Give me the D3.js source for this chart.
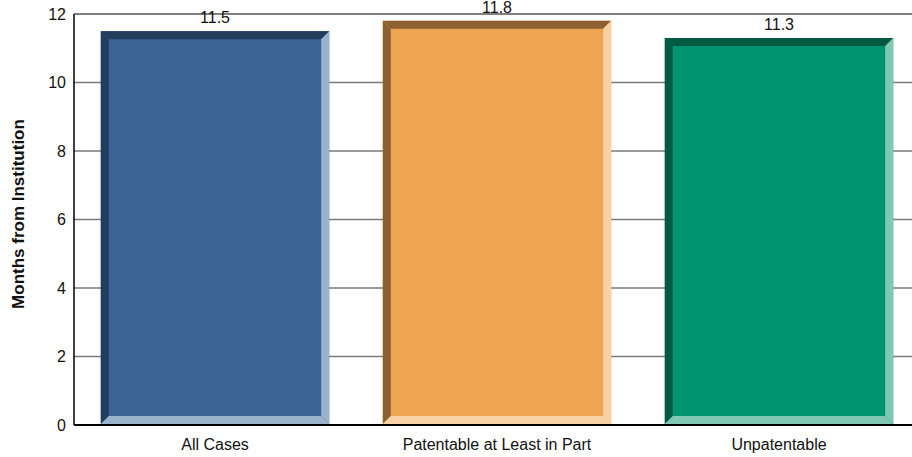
<!DOCTYPE html>
<html><head><meta charset="utf-8">
<script src="https://cdn.jsdelivr.net/npm/d3@7"></script>
<style>body{margin:0;background:#fff}svg{display:block;font-family:"Liberation Sans",Arial,sans-serif}</style>
</head><body><svg id="c" width="912" height="457"></svg>
<script>
const categories = ["All Cases", "Patentable at Least in Part", "Unpatentable"];
const values = [11.5, 11.8, 11.3];
const yTicks = [0, 2, 4, 6, 8, 10, 12];
const yTitle = "Months from Institution";
const mainColors = ["#3a6494", "#eea453", "#009570"];
const darkColors = ["#233d5e", "#8c6030", "#005a42"];
const lightColors = ["#9bb2cc", "#f8d1a5", "#80c8b3"];

const svg = d3.select("#c");
const L = 74, R = 920, T = 14, B = 425;
const x = d3.scaleBand().domain(categories).range([L, R]).paddingInner(0.19).paddingOuter(0.095);
const y = d3.scaleLinear().domain([0, 12]).range([B, T]);

// gridlines
svg.append("g").selectAll("line").data(yTicks.filter(t => t > 0 && t < 12)).join("line")
  .attr("x1", L).attr("x2", 912).attr("y1", d => y(d)).attr("y2", d => y(d))
  .attr("stroke", "#7a7a7a").attr("stroke-width", 1.5);
svg.append("line").attr("x1", L).attr("x2", 912).attr("y1", y(12)).attr("y2", y(12))
  .attr("stroke", "#000").attr("stroke-width", 1.2);

// bars with bevel
const b = 8;
const g = svg.append("g");
values.forEach((v, i) => {
  const x0 = x(categories[i]), x1 = x0 + x.bandwidth(), y0 = y(v), y1 = y(0) - 1;
  const bg = g.append("g");
  bg.append("rect").attr("x", x0).attr("y", y0).attr("width", x1 - x0).attr("height", y1 - y0).attr("fill", mainColors[i]);
  const poly = (pts, c) => bg.append("polygon").attr("points", pts.map(p => p.join(",")).join(" ")).attr("fill", c);
  poly([[x0, y0], [x1, y0], [x1 - b, y0 + b], [x0 + b, y0 + b]], darkColors[i]);
  poly([[x0, y0], [x0 + b, y0 + b], [x0 + b, y1 - b], [x0, y1]], darkColors[i]);
  poly([[x1, y0], [x1, y1], [x1 - b, y1 - b], [x1 - b, y0 + b]], lightColors[i]);
  poly([[x0, y1], [x1, y1], [x1 - b, y1 - b], [x0 + b, y1 - b]], lightColors[i]);
  svg.append("text").attr("x", x0 + x.bandwidth() / 2).attr("y", y0 - 8)
    .attr("text-anchor", "middle").attr("font-size", 16).attr("fill", "#111").text(v.toFixed(1));
});

// axes
svg.append("line").attr("x1", L).attr("x2", L).attr("y1", T).attr("y2", B).attr("stroke", "#000").attr("stroke-width", 1.5);
svg.append("line").attr("x1", L).attr("x2", 912).attr("y1", B).attr("y2", B).attr("stroke", "#000").attr("stroke-width", 2);

svg.append("g").selectAll("text").data(yTicks).join("text")
  .attr("x", 66).attr("y", d => y(d)).attr("dy", "0.35em").attr("text-anchor", "end")
  .attr("font-size", 16).attr("fill", "#111").text(d => d);

svg.append("g").selectAll("text").data(categories).join("text")
  .attr("x", d => x(d) + x.bandwidth() / 2).attr("y", 450).attr("text-anchor", "middle")
  .attr("font-size", 16).attr("fill", "#111").text(d => d);

svg.append("text").attr("transform", `translate(24,214) rotate(-90)`)
  .attr("text-anchor", "middle").attr("font-size", 17).attr("font-weight", "bold").attr("fill", "#111").text(yTitle);
</script></body></html>
